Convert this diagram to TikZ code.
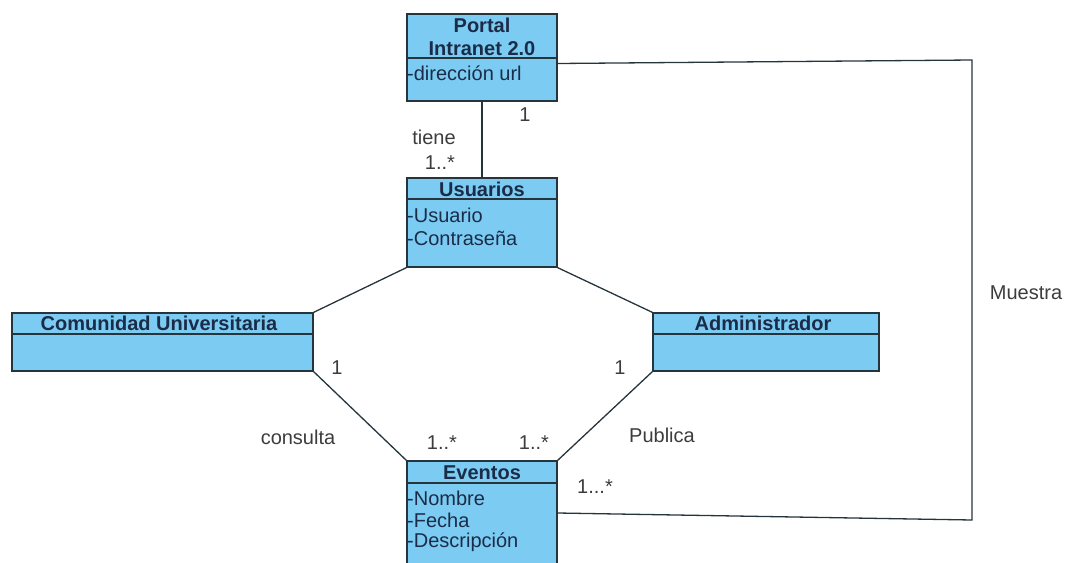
\documentclass[tikz,border=0pt]{standalone}
\usepackage{fontspec}
\setmainfont{Liberation Sans}
\definecolor{clsfill}{HTML}{7CCBF2}
\definecolor{clsline}{HTML}{26343C}
\definecolor{clstext}{HTML}{1B2C48}
\definecolor{lbltext}{HTML}{3C3C3C}

\begin{document}
\begin{tikzpicture}[x=1pt,y=-1pt,
    cls/.style={draw=clsline,fill=clsfill,line width=1.3pt,inner sep=0pt},
    title/.style={font=\bfseries\fontsize{20}{23}\selectfont,text=clstext,inner sep=0pt,align=center},
    attr/.style={font=\fontsize{20}{23}\selectfont,text=clstext,inner sep=0pt,anchor=west},
    lbl/.style={font=\fontsize{20}{23}\selectfont,text=lbltext,inner sep=0pt},
    assoc/.style={draw=clsline,line width=1.3pt}]
    \useasboundingbox (0,0) rectangle (1067,562);
    % classes
    \node[cls,minimum width=150pt,minimum height=87pt] (portal) at (482,57.5) {};
    \node[cls,minimum width=150pt,minimum height=89pt] (usuarios) at (482,222.5) {};
    \node[cls,minimum width=301pt,minimum height=58pt] (comunidad) at (162.5,342) {};
    \node[cls,minimum width=226pt,minimum height=58pt] (admin) at (766,342) {};
    \node[cls,minimum width=150pt,minimum height=104pt] (eventos) at (482,513) {};
    % header lines
    \draw[assoc] (portal.west |- 0,58) -- (portal.east |- 0,58);
    \draw[assoc] (usuarios.west |- 0,199) -- (usuarios.east |- 0,199);
    \draw[assoc] (comunidad.west |- 0,334) -- (comunidad.east |- 0,334);
    \draw[assoc] (admin.west |- 0,334) -- (admin.east |- 0,334);
    \draw[assoc] (eventos.west |- 0,483) -- (eventos.east |- 0,483);
    % names and attributes
    \node[title] (portalname) at (482,36.5) {Portal\\Intranet 2.0};
    \node[attr] (portalurl) at (407,73) {-dirección url};
    \node[title] (usuariosname) at (482,189) {Usuarios};
    \node[attr] (usuariouser) at (407,215) {-Usuario};
    \node[attr] (usuariopass) at (407,238) {-Contraseña};
    \node[title] (comunidadname) at (159,323) {Comunidad Universitaria};
    \node[title] (adminname) at (763,323) {Administrador};
    \node[title] (eventosname) at (482,473) {Eventos};
    \node[attr] (eventosnom) at (407,498) {-Nombre};
    \node[attr] (eventosfec) at (407,520) {-Fecha};
    \node[attr] (eventosdes) at (407,542) {-Descripción};
    % associations
    \draw[assoc] (portal.south) -- (usuarios.north);
    \draw[assoc] (usuarios.south west) -- (comunidad.north east);
    \draw[assoc] (usuarios.south east) -- (admin.north west);
    \draw[assoc] (comunidad.south east) -- (eventos.north west);
    \draw[assoc] (admin.south west) -- (eventos.north east);
    \coordinate (mtop) at (972,60);
    \coordinate (mbot) at (972,520);
    \draw[assoc] ([yshift=-6pt]portal.east) -- (mtop) -- (mbot) -- (eventos.east);
    % labels
    \node[lbl] (m1) at (525,115) {1};
    \node[lbl] (tiene) at (434,137) {tiene};
    \node[lbl] (m2) at (440,163) {1..*};
    \node[lbl] (m3) at (337,368) {1};
    \node[lbl] (m4) at (620,368) {1};
    \node[lbl] (consulta) at (298,437) {consulta};
    \node[lbl] (m5) at (442,443) {1..*};
    \node[lbl] (m6) at (534,443) {1..*};
    \node[lbl] (publica) at (662,435) {Publica};
    \node[lbl] (m7) at (595,487) {1...*};
    \node[lbl] (muestra) at (1026,293) {Muestra};
  \end{tikzpicture}
\end{document}
